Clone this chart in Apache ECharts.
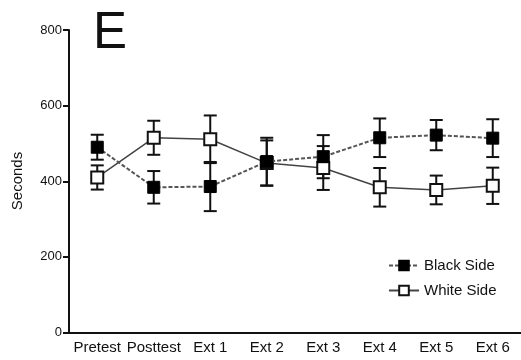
<!DOCTYPE html>
<html>
<head>
<meta charset="utf-8">
<script src="https://cdn.jsdelivr.net/npm/echarts@6/dist/echarts.min.js"></script>
<style>html,body{margin:0;padding:0;background:#fff;}#c{width:521px;height:360px;}</style>
</head>
<body>
<div id="c"></div>
<script>
const categories = ['Pretest', 'Posttest', 'Ext 1', 'Ext 2', 'Ext 3', 'Ext 4', 'Ext 5', 'Ext 6'];
const blackMean = [490, 384, 386, 452, 465, 515, 522, 514];
const blackErr  = [33, 43, 65, 63, 57, 51, 40, 50];
const whiteMean = [410, 515, 511, 448, 435, 384, 377, 388];
const whiteErr  = [32, 45, 63, 60, 58, 51, 38, 48];
const yTicks = [0, 200, 400, 600, 800];

const FONT = "'Liberation Sans', Arial, sans-serif";

function errData(mean, err) {
  return mean.map((m, i) => [i, m, err[i]]);
}
function errRender(params, api) {
  const x = api.value(0), m = api.value(1), e = api.value(2);
  const top = api.coord([x, m + e]);
  const bot = api.coord([x, m - e]);
  const hw = 6.5;
  const st = {stroke: '#111', lineWidth: 2};
  return {
    type: 'group',
    children: [
      {type: 'line', shape: {x1: top[0], y1: top[1], x2: bot[0], y2: bot[1]}, style: st},
      {type: 'line', shape: {x1: top[0] - hw, y1: top[1], x2: top[0] + hw, y2: top[1]}, style: st},
      {type: 'line', shape: {x1: bot[0] - hw, y1: bot[1], x2: bot[0] + hw, y2: bot[1]}, style: st}
    ]
  };
}

const chart = echarts.init(document.getElementById('c'));
chart.setOption({
  animation: false,
  backgroundColor: '#fff',
  grid: {left: 69, right: -4, top: 30, bottom: 27.5, containLabel: false},
  xAxis: {
    type: 'category',
    data: categories,
    boundaryGap: true,
    axisLine: {lineStyle: {color: '#111', width: 2}},
    axisTick: {alignWithLabel: true, length: 5, lineStyle: {color: '#111', width: 2}},
    axisLabel: {color: '#111', fontFamily: FONT, fontSize: 15, margin: 8, interval: 0},
    splitLine: {show: false}
  },
  yAxis: {
    type: 'value',
    min: yTicks[0], max: yTicks[yTicks.length - 1], interval: 200,
    axisLine: {show: true, lineStyle: {color: '#111', width: 2}},
    axisTick: {show: true, length: 6, lineStyle: {color: '#111', width: 2}},
    axisLabel: {color: '#111', fontFamily: FONT, fontSize: 13, margin: 7},
    splitLine: {show: false}
  },
  legend: {
    data: ['Black Side', 'White Side'],
    orient: 'vertical',
    left: 383, top: 253,
    itemWidth: 30, itemHeight: 12, itemGap: 10,
    textStyle: {color: '#111', fontFamily: FONT, fontSize: 15}
  },
  graphic: [
    {type: 'text', left: 93, top: 8, style: {text: 'E', fontFamily: FONT, fontSize: 51, fill: '#111'}},
    {type: 'text', x: 18, y: 181, rotation: Math.PI / 2,
     style: {text: 'Seconds', fontFamily: FONT, fontSize: 15, fill: '#111', align: 'center', verticalAlign: 'middle'}}
  ],
  series: [
    {type: 'custom', name: 'whiteErr', renderItem: errRender, data: errData(whiteMean, whiteErr), z: 1, silent: true},
    {type: 'custom', name: 'blackErr', renderItem: errRender, data: errData(blackMean, blackErr), z: 1, silent: true},
    {
      type: 'line', name: 'White Side', data: whiteMean, z: 3,
      symbol: 'rect', symbolSize: 12,
      lineStyle: {color: '#444', width: 1.5, type: 'solid'},
      itemStyle: {color: '#fff', borderColor: '#111', borderWidth: 2}
    },
    {
      type: 'line', name: 'Black Side', data: blackMean, z: 4,
      symbol: 'rect', symbolSize: 12,
      lineStyle: {color: '#555', width: 2, type: [4, 2]},
      itemStyle: {color: '#000', borderColor: '#000', borderWidth: 1}
    }
  ]
});
</script>
</body>
</html>
